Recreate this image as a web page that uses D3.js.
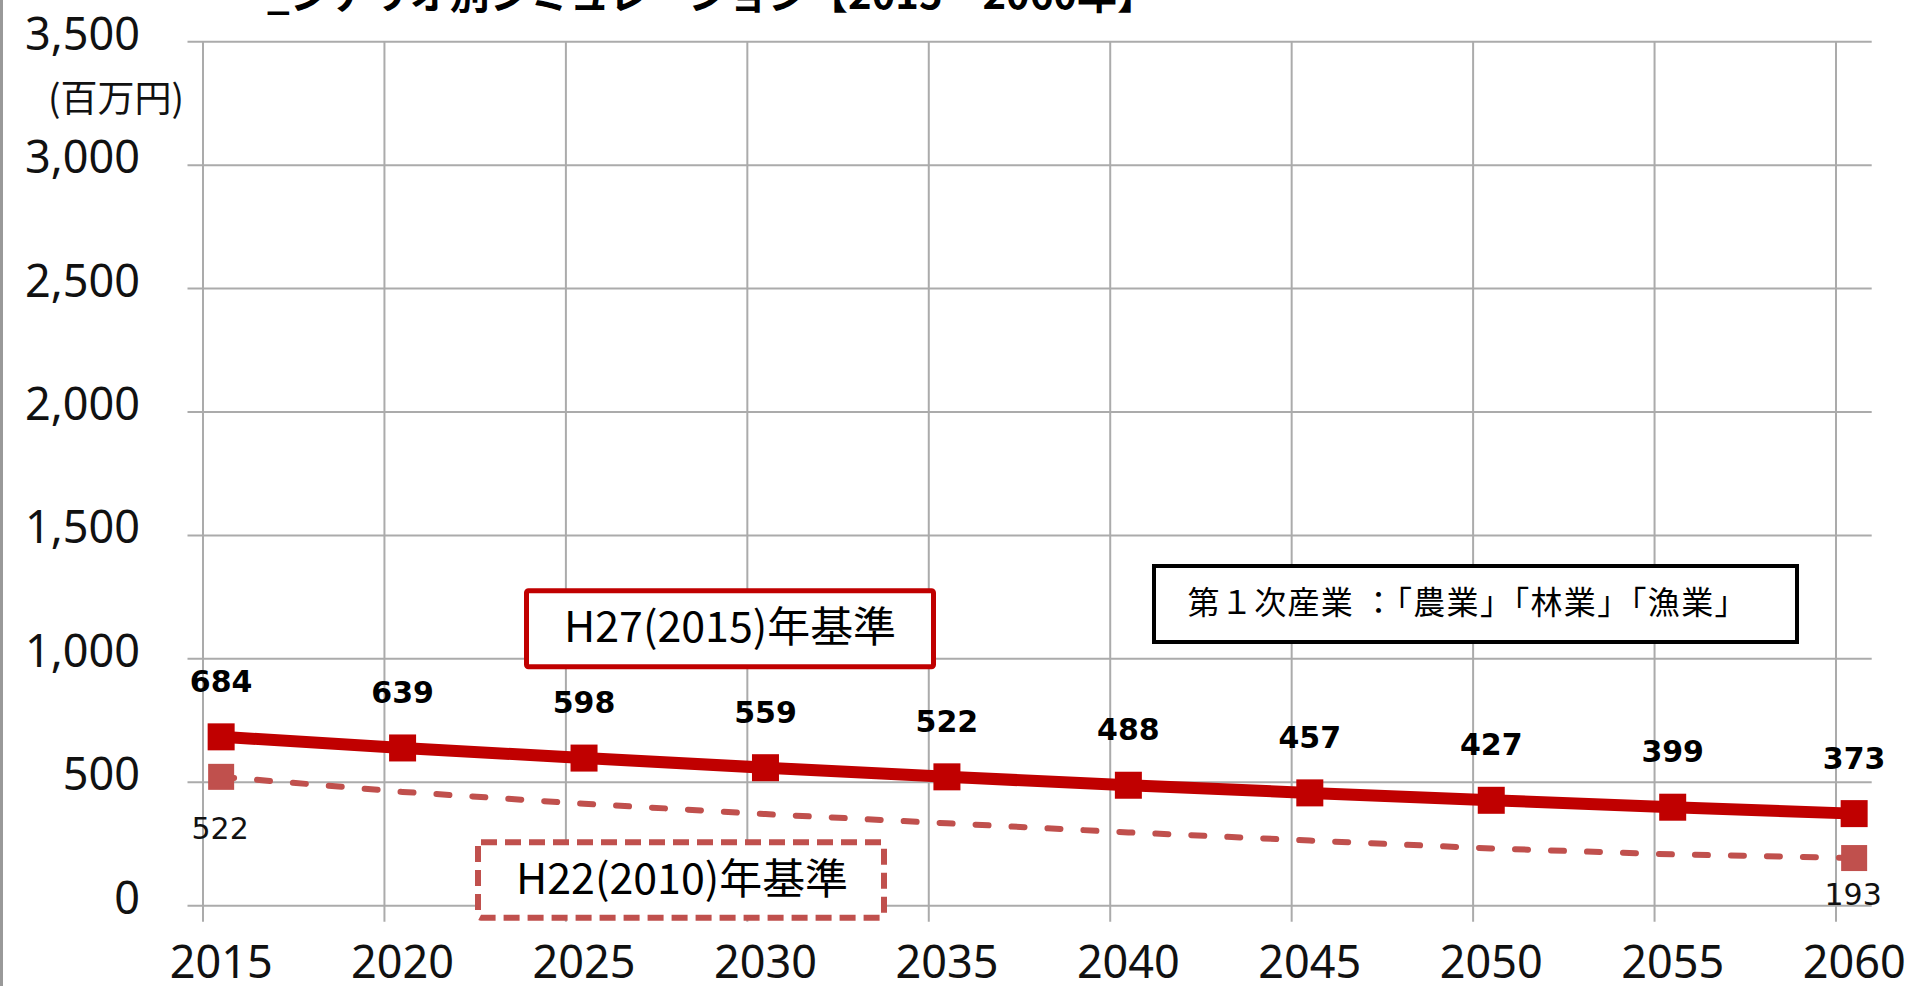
<!DOCTYPE html>
<html>
<head>
<meta charset="utf-8">
<script src="https://cdn.jsdelivr.net/npm/d3@7"></script>
<style>
  body { margin: 0; background: #fff; }
  svg { display: block; }
</style>
</head>
<body>
<svg id="chart" width="1915" height="986"></svg>
<script>
// Données du graphique
const years = [2015, 2020, 2025, 2030, 2035, 2040, 2045, 2050, 2055, 2060];
const h27Values = [684, 639, 598, 559, 522, 488, 457, 427, 399, 373];
const h22Values = [522, 461, 413, 371, 334, 297, 264, 232, 208, 193];
const yTicks = [0, 500, 1000, 1500, 2000, 2500, 3000, 3500];
const titleText = "_シナリオ別シミュレーション【2015～2060年】";
const unitText = "(百万円)";
const h27Name = "H27(2015)年基準";
const h22Name = "H22(2010)年基準";
const noteText = "第１次産業 ：「農業」「林業」「漁業」";

const svg = d3.select("#chart");

const x = d3.scaleLinear().domain([2015, 2060]).range([203, 1836]);
const y = d3.scaleLinear().domain([0, 3500]).range([905.7, 41.7]);
const px = yr => x(yr + 0.5); // les points sont décalés d'une demi-période

const gridColor = "#ababab";
const red = "#c00000";
const pink = "#c0504d";

// bordure gauche
svg.append("line")
    .attr("x1", 1.5).attr("x2", 1.5).attr("y1", 0).attr("y2", 986)
    .attr("stroke", "#999").attr("stroke-width", 3);

// titre (coupé en haut, comme l'original)
svg.append("text")
    .attr("x", 267).attr("y", 9)
    .attr("font-family", "Noto Sans CJK JP")
    .attr("font-weight", "bold")
    .attr("font-size", "40px")
    .text(titleText);

// lignes de grille horizontales
svg.append("g").selectAll("line")
    .data(yTicks)
    .join("line")
    .attr("x1", 187.5).attr("x2", 1871.7)
    .attr("y1", d => y(d)).attr("y2", d => y(d))
    .attr("stroke", gridColor).attr("stroke-width", 2);

// lignes de grille verticales
svg.append("g").selectAll("line")
    .data(years)
    .join("line")
    .attr("x1", d => x(d)).attr("x2", d => x(d))
    .attr("y1", y(3500)).attr("y2", y(0) + 16)
    .attr("stroke", gridColor).attr("stroke-width", 2);

// étiquettes de l'axe Y
svg.append("g").selectAll("text")
    .data(yTicks)
    .join("text")
    .attr("x", 140).attr("y", d => y(d) + 8)
    .attr("text-anchor", "end")
    .attr("font-family", "Noto Sans")
    .attr("font-size", "45px")
    .attr("fill", "#111")
    .text(d => d3.format(",")(d));

svg.append("text")
    .attr("x", 184).attr("y", 112)
    .attr("text-anchor", "end")
    .attr("font-family", "Noto Sans CJK JP")
    .attr("font-size", "37px")
    .attr("fill", "#111")
    .text(unitText);

// étiquettes de l'axe X
svg.append("g").selectAll("text")
    .data(years)
    .join("text")
    .attr("x", d => px(d)).attr("y", 978)
    .attr("text-anchor", "middle")
    .attr("font-family", "Noto Sans")
    .attr("font-size", "45px")
    .attr("fill", "#111")
    .text(d => d);

// série H22 (pointillés)
const h22 = years.map((yr, i) => ({ yr: yr, v: h22Values[i] }));
svg.append("path")
    .datum(h22)
    .attr("fill", "none")
    .attr("stroke", pink)
    .attr("stroke-width", 6)
    .attr("stroke-dasharray", "13,23")
    .attr("stroke-linecap", "round")
    .attr("d", d3.line().x(d => px(d.yr)).y(d => y(d.v)));

const h22Ends = [h22[0], h22[h22.length - 1]];
const h22LabelDy = [62, 47];
svg.append("g").selectAll("rect")
    .data(h22Ends)
    .join("rect")
    .attr("x", d => px(d.yr) - 13).attr("y", d => y(d.v) - 13)
    .attr("width", 26).attr("height", 26)
    .attr("fill", pink);

svg.append("g").selectAll("text")
    .data(h22Ends)
    .join("text")
    .attr("x", d => px(d.yr) - 1)
    .attr("y", (d, i) => y(d.v) + h22LabelDy[i])
    .attr("text-anchor", "middle")
    .attr("font-family", "DejaVu Sans")
    .attr("font-size", "30px")
    .attr("fill", "#111")
    .text(d => d.v);

// série H27 (trait plein)
const h27 = years.map((yr, i) => ({ yr: yr, v: h27Values[i] }));
svg.append("path")
    .datum(h27)
    .attr("fill", "none")
    .attr("stroke", red)
    .attr("stroke-width", 12)
    .attr("stroke-linejoin", "round")
    .attr("d", d3.line().x(d => px(d.yr)).y(d => y(d.v)));

svg.append("g").selectAll("rect")
    .data(h27)
    .join("rect")
    .attr("x", d => px(d.yr) - 13.5).attr("y", d => y(d.v) - 13.5)
    .attr("width", 27).attr("height", 27)
    .attr("fill", red);

svg.append("g").selectAll("text")
    .data(h27)
    .join("text")
    .attr("x", d => px(d.yr)).attr("y", d => y(d.v) - 45)
    .attr("text-anchor", "middle")
    .attr("font-family", "DejaVu Sans")
    .attr("font-weight", "bold")
    .attr("font-size", "30px")
    .attr("fill", "#000")
    .text(d => d.v);

// boîtes de légende
svg.append("rect")
    .attr("x", 526.5).attr("y", 590.8).attr("width", 407).attr("height", 76)
    .attr("rx", 2)
    .attr("fill", "#fff").attr("stroke", red).attr("stroke-width", 5);
svg.append("text")
    .attr("x", 730).attr("y", 642)
    .attr("text-anchor", "middle")
    .attr("font-family", "Noto Sans CJK JP")
    .attr("font-size", "42px")
    .attr("textLength", 332)
    .attr("lengthAdjust", "spacingAndGlyphs")
    .text(h27Name);

svg.append("rect")
    .attr("x", 478).attr("y", 842.3).attr("width", 406).attr("height", 75.4)
    .attr("rx", 3)
    .attr("fill", "#fff").attr("stroke", pink).attr("stroke-width", 6)
    .attr("stroke-dasharray", "16,8");
svg.append("text")
    .attr("x", 682).attr("y", 894)
    .attr("text-anchor", "middle")
    .attr("font-family", "Noto Sans CJK JP")
    .attr("font-size", "42px")
    .attr("textLength", 332)
    .attr("lengthAdjust", "spacingAndGlyphs")
    .text(h22Name);

svg.append("rect")
    .attr("x", 1154).attr("y", 566).attr("width", 643).attr("height", 76)
    .attr("fill", "#fff").attr("stroke", "#000").attr("stroke-width", 4);
svg.append("text")
    .attr("x", 1467).attr("y", 614)
    .attr("text-anchor", "middle")
    .attr("font-family", "Noto Sans CJK JP")
    .attr("font-size", "32px")
    .attr("textLength", 559)
    .attr("lengthAdjust", "spacing")
    .text(noteText);
</script>
</body>
</html>
